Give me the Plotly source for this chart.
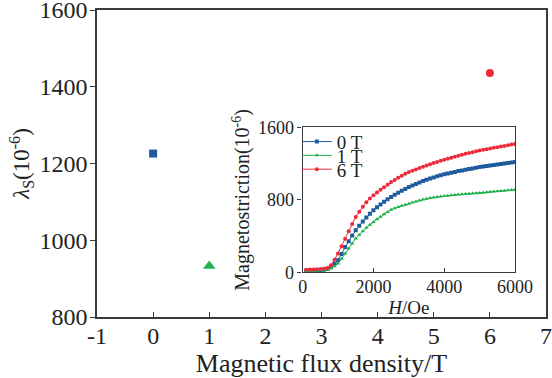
import plotly.graph_objects as go

# ---- main panel data ----
field_T = [0, 1, 6]
lambda_s = [1226, 933, 1436]
series_names = ["0 T", "1 T", "6 T"]
main_x_ticks = [-1, 0, 1, 2, 3, 4, 5, 6, 7]
main_x_ticktext = ["-1", "0", "1", "2", "3", "4", "5", "6", "7"]

# ---- inset data (H in Oe, magnetostriction in 1e-6) ----
H_Oe = list(range(100, 6001, 100))
ms_0T = [20, 22, 23, 25, 27, 30, 38,
         62, 95, 135, 205, 282, 345, 408, 465, 515, 562, 606, 647, 685,
         718, 750, 779, 806, 832, 856, 879, 901, 921, 941,
         958, 975, 991, 1007, 1022, 1035, 1047, 1059, 1070, 1081,
         1090, 1099, 1108, 1117, 1125, 1133, 1140, 1147, 1154, 1161,
         1167, 1173, 1179, 1185, 1190, 1196, 1201, 1206, 1211, 1216]
ms_1T = [15, 17, 18, 20, 22, 25, 30,
         44, 68, 99, 150, 209, 265, 320, 374, 415, 455, 492, 526, 557,
         586, 614, 641, 667, 692, 708, 722, 735, 747, 758,
         770, 781, 792, 803, 813, 820, 826, 832, 837, 842,
         846, 850, 854, 858, 861, 864, 867, 870, 873, 875,
         879, 883, 887, 891, 894, 898, 901, 905, 908, 912]
ms_6T = [30, 32, 33, 35, 38, 42, 50,
         80, 140, 209, 290, 373, 455, 535, 611, 670, 725, 775, 815, 850,
         882, 912, 940, 968, 996, 1020, 1043, 1066, 1087, 1106,
         1121, 1136, 1151, 1165, 1179, 1192, 1205, 1218, 1230, 1242,
         1253, 1264, 1275, 1286, 1297, 1307, 1316, 1326, 1335, 1344,
         1352, 1359, 1367, 1374, 1381, 1388, 1395, 1403, 1410, 1417]

colors = ["#1f5c9e", "#20b04c", "#ee2a3a"]
symbols = ["square", "triangle-up", "circle"]
main_sizes = [8, 11, 8]
inset_series = [ms_0T, ms_1T, ms_6T]
legend_ids = ["legend", "legend2", "legend3"]
legend_y = [0.571, 0.526, 0.481]

FONT = "Liberation Serif, Times New Roman, serif"
AX = "#3a3a3a"

fig = go.Figure()

for i in range(3):
    fig.add_trace(go.Scatter(
        x=[field_T[i]], y=[lambda_s[i]], mode="markers",
        marker=dict(symbol=symbols[i], size=main_sizes[i], color=colors[i]),
        showlegend=False, xaxis="x", yaxis="y"))

for i in range(3):
    fig.add_trace(go.Scatter(
        x=H_Oe, y=inset_series[i], mode="lines+markers", name=series_names[i],
        line=dict(color=colors[i], width=1),
        marker=dict(symbol=symbols[i], size=4, color=colors[i]),
        showlegend=True, legend=legend_ids[i], xaxis="x2", yaxis="y2"))

legend_common = dict(xanchor="left", yanchor="middle", bgcolor="rgba(0,0,0,0)",
                     borderwidth=0, font=dict(size=19), itemwidth=30)

fig.update_layout(
    width=552, height=378,
    margin=dict(l=97, r=6, t=10, b=61),
    paper_bgcolor="white", plot_bgcolor="white",
    font=dict(family=FONT, color="#222", size=20),
    xaxis=dict(range=[-1, 7], tickvals=main_x_ticks, ticktext=main_x_ticktext,
               showgrid=False, zeroline=False, automargin=False, ticklabeloverflow="allow",
               showline=True, linecolor=AX, linewidth=1.5, mirror=True,
               ticks="inside", ticklen=5, tickcolor=AX, tickwidth=1.2,
               tickfont=dict(size=24), ticklabelstandoff=-4,
               title=dict(text="Magnetic flux density/T", font=dict(size=26), standoff=1)),
    yaxis=dict(range=[800, 1600], dtick=200, showgrid=False, zeroline=False,
               automargin=False, ticklabeloverflow="allow",
               showline=True, linecolor=AX, linewidth=1.5, mirror=True,
               ticks="outside", ticklen=5, tickcolor=AX, tickwidth=1.2,
               tickfont=dict(size=24), ticklabelstandoff=-2,
               title=dict(text="<i>λ</i><sub>S</sub>(10<sup>-6</sup>)", font=dict(size=23), standoff=3)),
    xaxis2=dict(domain=[0.458, 0.931], anchor="y2", range=[0, 6000], dtick=2000,
                showgrid=False, zeroline=False, automargin=False, ticklabeloverflow="allow",
                showline=True, linecolor=AX, linewidth=1.3,
                mirror=True, ticks="inside", ticklen=4, tickcolor=AX,
                tickfont=dict(size=18), ticklabelstandoff=-2,
                title=dict(text="<i>H</i>/Oe", font=dict(size=19), standoff=0)),
    yaxis2=dict(domain=[0.145, 0.618], anchor="x2", range=[0, 1600], dtick=800,
                showgrid=False, zeroline=False, automargin=False, ticklabeloverflow="allow",
                showline=True, linecolor=AX, linewidth=1.3,
                mirror=True, ticks="outside", ticklen=4, tickcolor=AX,
                tickfont=dict(size=18),
                title=dict(text="Magnetostriction(10<sup>-6</sup>)", font=dict(size=20), standoff=2)),
    legend=dict(x=0.445, y=legend_y[0], **legend_common),
    legend2=dict(x=0.445, y=legend_y[1], **legend_common),
    legend3=dict(x=0.445, y=legend_y[2], **legend_common),
)

fig.write_html("out.html", config={"displayModeBar": False},
               post_script="document.body.style.margin='0';document.body.style.padding='0';")
